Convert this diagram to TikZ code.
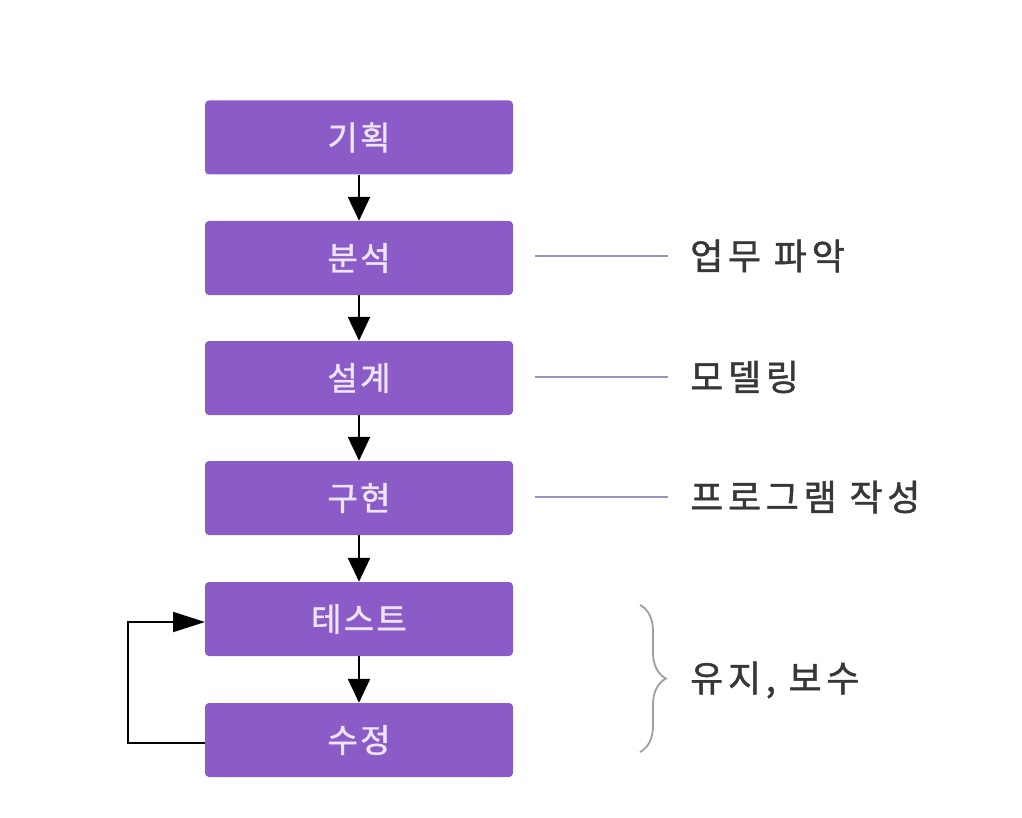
\documentclass[tikz,border=0pt]{standalone}
\usepackage{fontspec}
\newfontfamily\krbox[LetterSpace=7,FakeBold=1.2]{Noto Sans CJK KR}
\newfontfamily\krlbl[LetterSpace=13,FakeBold=1.2]{Noto Sans CJK KR}
\usetikzlibrary{arrows.meta,decorations.pathreplacing}
\definecolor{boxpurple}{RGB}{139,92,200}
\definecolor{boxtext}{RGB}{238,228,250}
\definecolor{linegray}{RGB}{150,150,195}
\definecolor{txtgray}{RGB}{55,55,55}
\begin{document}
\begin{tikzpicture}[x=1pt,y=-1pt,
  stagebox/.style={fill=boxpurple,rounded corners=4pt,minimum width=308pt,minimum height=74pt,inner sep=0pt,text=boxtext,font=\krbox\fontsize{33}{33}\selectfont},
  flow/.style={-{Triangle[length=24pt,width=22pt]},line width=2.4pt,black},
  loopflow/.style={-{Triangle[length=32pt,width=20pt]},line width=2pt,black},
  guide/.style={linegray,line width=2.2pt},
  lbl/.style={anchor=west,text=txtgray,font=\krlbl\fontsize{36}{36}\selectfont,inner sep=0pt}]
\useasboundingbox (0,0) rectangle (1022,818);
\node[stagebox] (a) at (359,137.5) {기획};
\node[stagebox] (b) at (359,258) {분석};
\node[stagebox] (c) at (359,378) {설계};
\node[stagebox] (d) at (359,498) {구현};
\node[stagebox] (e) at (359,619) {테스트};
\node[stagebox] (f) at (359,740) {수정};
\draw[flow] (a) -- (b);
\draw[flow] (b) -- (c);
\draw[flow] (c) -- (d);
\draw[flow] (d) -- (e);
\draw[flow] (e) -- (f);
\coordinate (fl) at (205,743);
\coordinate (el) at (205,622);
\draw[loopflow] (fl) -- (128,743) |- (el);
\node[lbl] (l1) at (690,256) {업무 파악};
\node[lbl] (l2) at (690,377) {모델링};
\node[lbl] (l3) at (690,497) {프로그램 작성};
\coordinate (g1) at (535,256);
\coordinate (g2) at (535,377);
\coordinate (g3) at (535,497);
\draw[guide] (g1) -- (668,256);
\draw[guide] (g2) -- (668,377);
\draw[guide] (g3) -- (668,497);
\coordinate (bt) at (640,605);
\coordinate (bb) at (640,752);
\draw[gray!75,line width=1.8pt,decoration={brace,amplitude=26pt,aspect=0.5},decorate] (bt) -- (bb);
\node[lbl] (l4) at (690,680) {유지, 보수};
\end{tikzpicture}
\end{document}
